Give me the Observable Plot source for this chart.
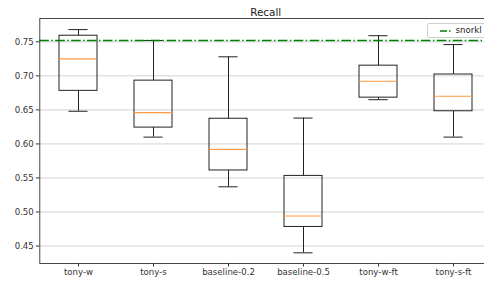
<!DOCTYPE html>
<html>
<head>
<meta charset="utf-8">
<script src="https://cdn.jsdelivr.net/npm/d3@7"></script>
<script src="https://cdn.jsdelivr.net/npm/@observablehq/plot@0.6"></script>
<style>
  html, body { margin: 0; padding: 0; background: white; overflow: hidden; }
  #wrap { position: relative; width: 484px; height: 282px; overflow: hidden; }
  #chart svg { max-width: none !important; width: 491px; height: 282px; display: block; }
  #legend { position: absolute; left: 426.5px; top: 22.5px; width: 70px; height: 15.5px;
    border: 1px solid #d0d0d0; border-radius: 2px; background: rgba(255,255,255,0.85);
    font-family: "DejaVu Sans", sans-serif; font-size: 8.6px; color: #222; box-sizing: border-box; }
  #legend svg { position: absolute; left: 0; top: 0; }
  #legend span { position: absolute; left: 28px; top: 1.5px; }
</style>
</head>
<body>
<div id="wrap">
  <div id="chart"></div>
  <div id="legend"><svg width="30" height="14"><line x1="12" x2="24" y1="7" y2="7" stroke="green" stroke-width="1.5" stroke-dasharray="7,2,1.5,2"/></svg><span>snorkl</span></div>
</div>
<script>
const categories = ["tony-w", "tony-s", "baseline-0.2", "baseline-0.5", "tony-w-ft", "tony-s-ft"];
const whiskerLow  = [0.648, 0.610, 0.537, 0.440, 0.665, 0.610];
const q1          = [0.678, 0.624, 0.561, 0.478, 0.668, 0.648];
const median      = [0.725, 0.646, 0.592, 0.494, 0.692, 0.670];
const q3          = [0.759, 0.693, 0.637, 0.553, 0.715, 0.702];
const whiskerHigh = [0.768, 0.752, 0.728, 0.638, 0.759, 0.746];
const snorkl = 0.752;
const yTicks = [0.45, 0.50, 0.55, 0.60, 0.65, 0.70, 0.75];
const title = "Recall";

const rows = categories.map((c, i) => ({
  cat: c, lo: whiskerLow[i], q1: q1[i], med: median[i], q3: q3[i], hi: whiskerHigh[i]
}));

const chart = Plot.plot({
  width: 491,
  height: 282,
  marginLeft: 39.3,
  marginRight: 0,
  marginTop: 18,
  marginBottom: 19,
  style: { fontFamily: "DejaVu Sans, sans-serif", fontSize: "8.6px", background: "white", color: "#333", maxWidth: "none" },
  x: { domain: categories, paddingInner: 0.5, paddingOuter: 0.25, label: null },
  y: { domain: [0.4243, 0.7843], label: null },
  marks: [
    Plot.gridY(yTicks, { stroke: "#b0b0b0", strokeOpacity: 0.7, strokeWidth: 0.8 }),
    Plot.axisY({ ticks: yTicks, tickSize: 3.5, tickPadding: 2.5, tickFormat: d3.format(".2f"), label: null, stroke: "#333", fill: "#333" }),
    Plot.axisX({ tickSize: 3.5, tickPadding: 2, label: null, stroke: "#333", fill: "#333" }),
    Plot.ruleX(rows, { x: "cat", y1: "q3", y2: "hi", stroke: "#222", strokeWidth: 1 }),
    Plot.ruleX(rows, { x: "cat", y1: "lo", y2: "q1", stroke: "#222", strokeWidth: 1 }),
    Plot.tickY(rows, { x: "cat", y: "hi", insetLeft: 9.4, insetRight: 9.4, stroke: "#222", strokeWidth: 1 }),
    Plot.tickY(rows, { x: "cat", y: "lo", insetLeft: 9.4, insetRight: 9.4, stroke: "#222", strokeWidth: 1 }),
    Plot.barY(rows, { x: "cat", y1: "q1", y2: "q3", fill: "none", stroke: "#222", strokeWidth: 1 }),
    Plot.tickY(rows, { x: "cat", y: "med", stroke: "#ff9a40", strokeWidth: 1.1 }),
    Plot.ruleY([snorkl], { stroke: "green", strokeWidth: 1.5, strokeDasharray: "9.6,2.4,1.5,2.4" }),
    Plot.frame({ stroke: "#333", strokeWidth: 0.9 }),
    Plot.text([title], { frameAnchor: "top", dy: -9.5, fontSize: 10.4, fill: "#222" })
  ]
});
document.getElementById("chart").appendChild(chart);
</script>
</body>
</html>
